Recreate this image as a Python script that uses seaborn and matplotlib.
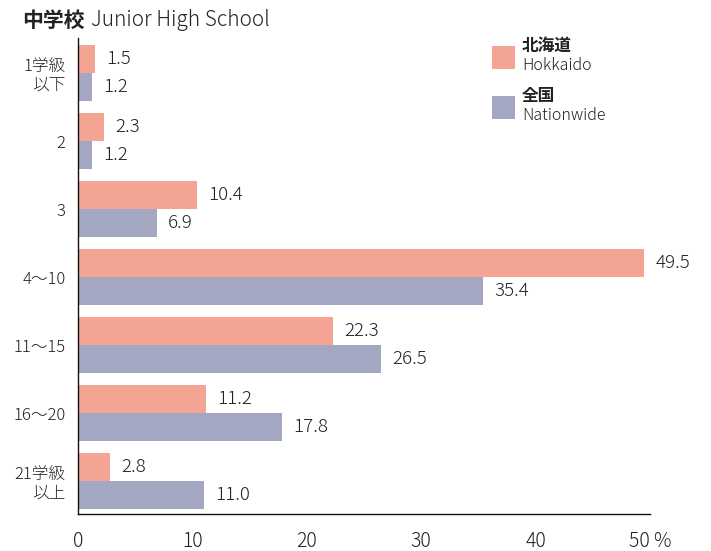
import matplotlib
matplotlib.use("Agg")
import matplotlib.pyplot as plt
import seaborn as sns
import pandas as pd
from matplotlib.patches import Rectangle

categories = ["1学級\n以下", "2", "3", "4〜10", "11〜15", "16〜20", "21学級\n以上"]
hokkaido = [1.5, 2.3, 10.4, 49.5, 22.3, 11.2, 2.8]
nationwide = [1.2, 1.2, 6.9, 35.4, 26.5, 17.8, 11.0]
series = ["北海道", "全国"]
series_en = ["Hokkaido", "Nationwide"]
colors = ["#F4A492", "#A3A7C2"]
xticks = [0, 10, 20, 30, 40, 50]
xticklabels = ["0", "10", "20", "30", "40", "50 %"]

sns.set_theme(style="white")
plt.rcParams['font.family'] = ['Noto Sans CJK JP', 'DejaVu Sans']
TXT = "#222222"
LW = 300

df = pd.DataFrame({
    "cat": categories * 2,
    "val": hokkaido + nationwide,
    "series": [series[0]] * len(categories) + [series[1]] * len(categories),
})

fig = plt.figure(figsize=(7.11, 5.51), dpi=100)
ax = fig.add_axes([78/711, 37/551, 572/711, 476/551])
sns.barplot(data=df, y="cat", x="val", hue="series", orient="h",
            palette=colors, width=0.82, saturation=1, ax=ax, legend=False,
            linewidth=0, edgecolor="none")

for cont in ax.containers:
    ax.bar_label(cont, fmt="%.1f", padding=8, fontsize=13.5, color=TXT, fontweight=LW)

ax.set_xlim(0, 50)
ax.set_ylim(6.485, -0.515)
ax.set_xlabel("")
ax.set_ylabel("")
ax.set_xticks(xticks)
ax.set_xticklabels(xticklabels, fontsize=14, color=TXT, fontweight=LW)
ax.tick_params(axis="x", direction="out", length=9, width=1.2, color="#777777", pad=3)
ax.tick_params(axis="y", length=0, pad=9, labelcolor=TXT)
for lab in ax.get_yticklabels():
    lab.set_multialignment("right")
    lab.set_linespacing(1.15)
    lab.set_fontsize(12)
    lab.set_fontweight(LW)
for s in ["top", "right"]:
    ax.spines[s].set_visible(False)
for s in ["left", "bottom"]:
    ax.spines[s].set_color("#111111")
    ax.spines[s].set_linewidth(1.0)

# Title
t1 = fig.text(22/711, 1 - 20/551, "中学校", fontsize=15, fontweight="bold", color=TXT, va="center", ha="left")
fig.canvas.draw()
bb = t1.get_window_extent()
fig.text((bb.x1 + 6)/711, 1 - 20/551, "Junior High School", fontsize=15, color=TXT,
         va="center", ha="left", fontweight=LW)

# Legend
leg_y = [56, 106]
for i in range(2):
    yc = leg_y[i]
    fig.add_artist(Rectangle((492/711, 1 - (yc + 13)/551), 23/711, 23/551,
                             transform=fig.transFigure, facecolor=colors[i], edgecolor="none"))
    fig.text(522/711, 1 - (yc - 10)/551, series[i], fontsize=12, fontweight="bold", color=TXT, va="center", ha="left")
    fig.text(522/711, 1 - (yc + 9)/551, series_en[i], fontsize=11.5, color=TXT, va="center", ha="left", fontweight=LW)

fig.savefig("out.png", dpi=100)
